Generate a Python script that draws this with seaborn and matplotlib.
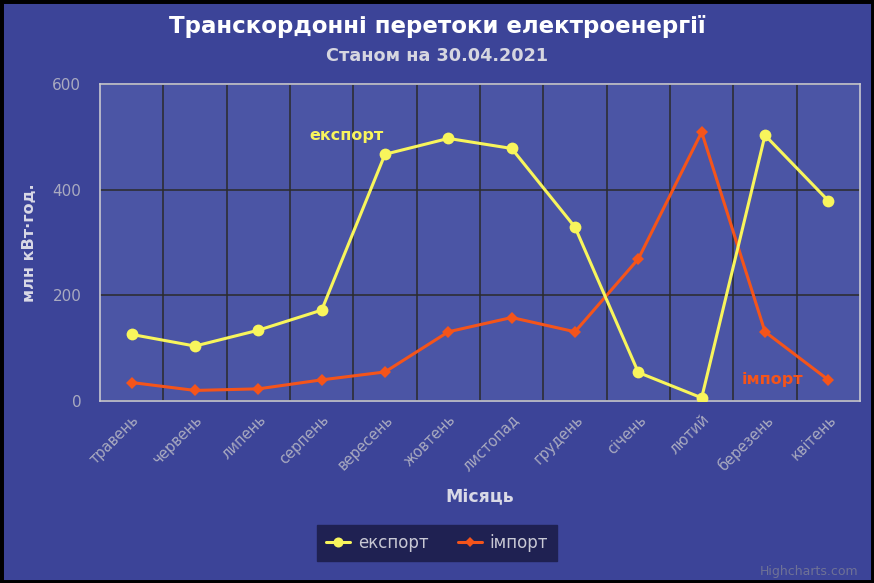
import matplotlib
matplotlib.use("Agg")
import matplotlib.pyplot as plt
import seaborn as sns
import pandas as pd
from matplotlib.patches import Rectangle

months = ["травень", "червень", "липень", "серпень", "вересень", "жовтень",
          "листопад", "грудень", "січень", "лютий", "березень", "квітень"]
export_vals = [126, 104, 134, 172, 467, 497, 478, 329, 54, 6, 503, 379]
import_vals = [35, 20, 23, 40, 55, 131, 158, 131, 269, 509, 131, 40]
y_ticks = [0, 200, 400, 600]

BG = "#3c4498"
PLOT_BG = "#4b55a5"
EXP_C = "#f8f55c"
IMP_C = "#f4541a"
GRID_C = "#2b2b2b"
TICK_C = "#a9aac0"
LABEL_C = "#d9d9e6"

sns.set_theme(style="white")
plt.rcParams["font.family"] = ["DejaVu Sans"]

df = pd.DataFrame({
    "idx": list(range(len(months))) * 2,
    "value": export_vals + import_vals,
    "series": ["експорт"] * len(months) + ["імпорт"] * len(months),
})

fig = plt.figure(figsize=(8.74, 5.83), dpi=100, facecolor=BG)
W, H = 874, 583
ax = fig.add_axes([100 / W, (H - 401) / H, 760 / W, 317 / H])
ax.set_facecolor(PLOT_BG)

sns.lineplot(data=df[df.series == "експорт"], x="idx", y="value", ax=ax,
             color=EXP_C, lw=2.2, marker="o", markersize=8.5, markeredgewidth=0,
             label="експорт", zorder=4)
sns.lineplot(data=df[df.series == "імпорт"], x="idx", y="value", ax=ax,
             color=IMP_C, lw=2.2, marker="D", markersize=6.5, markeredgewidth=0,
             label="імпорт", zorder=3)

ax.set_xlim(-0.5, len(months) - 0.5)
ax.set_ylim(0, 600)
ax.set_yticks(y_ticks)
ax.set_yticklabels([str(v) for v in y_ticks], color=TICK_C, fontsize=11)
ax.set_xticks(range(len(months)))
ax.set_xticklabels(months, rotation=45, ha="right", rotation_mode="anchor",
                   color=TICK_C, fontsize=10.5)
ax.set_xticks([i + 0.5 for i in range(len(months) - 1)], minor=True)
ax.grid(True, which="major", axis="y", color=GRID_C, lw=1.1)
ax.grid(True, which="minor", axis="x", color=GRID_C, lw=1.1)
ax.grid(False, which="major", axis="x")
ax.tick_params(axis="y", which="major", length=8.5, color="#c8c8d0", width=1, pad=5)
ax.tick_params(axis="x", which="major", length=0, pad=8)
ax.tick_params(axis="x", which="minor", length=0)
for s in ax.spines.values():
    s.set_color("#c8c8d0")
    s.set_linewidth(1.2)
ax.set_axisbelow(True)

ax.set_xlabel("Місяць", color=LABEL_C, fontsize=12.5, fontweight="bold")
ax.set_ylabel("млн кВт·год.", color=LABEL_C, fontsize=11.5, fontweight="bold")
ax.xaxis.set_label_coords(0.5, -(497 - 401) / 317, transform=ax.transAxes)
ax.yaxis.set_label_coords((30 - 100) / 760, 0.5, transform=ax.transAxes)
ax.xaxis.label.set_va("center")
ax.yaxis.label.set_va("center")

ax.text(3.4, 502, "експорт", color=EXP_C, fontsize=11.5, fontweight="bold",
        ha="center", va="center")
ax.text(10.11, 40, "імпорт", color=IMP_C, fontsize=11.5, fontweight="bold",
        ha="center", va="center")

fig.text(437 / W, 1 - 27 / H, "Транскордонні перетоки електроенергії",
         color="white", fontsize=16.5, fontweight="bold", ha="center", va="center")
fig.text(437 / W, 1 - 56 / H, "Станом на 30.04.2021",
         color="#d6d6e0", fontsize=12.7, fontweight="bold", ha="center", va="center")

leg = ax.legend(loc="center", bbox_to_anchor=(437 / W, 1 - 543 / H),
                bbox_transform=fig.transFigure, ncol=2, frameon=True,
                fontsize=12, handlelength=1.45, handletextpad=0.45,
                columnspacing=1.75, borderpad=0.55, fancybox=False,
                markerscale=0.85)
leg.get_frame().set_facecolor("#1f2152")
leg.get_frame().set_edgecolor("#1f2152")
leg.get_frame().set_alpha(1)
for t in leg.get_texts():
    t.set_color("#c8c8d4")

fig.text(858 / W, 1 - 571 / H, "Highcharts.com", color="#6f7296", fontsize=9,
         ha="right", va="center")

fig.patches.append(Rectangle((0, 0), 1, 1, transform=fig.transFigure,
                             fill=False, edgecolor="black", lw=5, zorder=10))

fig.savefig("out.png", dpi=100, facecolor=BG)
